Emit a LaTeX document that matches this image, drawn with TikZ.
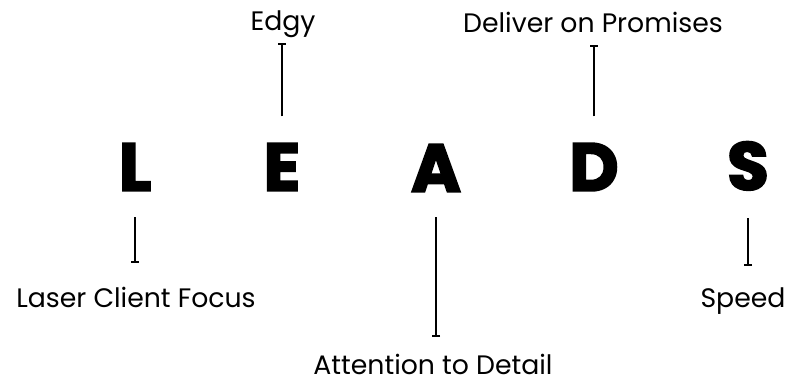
\documentclass[tikz,border=0pt]{standalone}
\usepackage{fontspec}
\setmainfont{Poppins}[BoldFeatures={FakeBold=3}]
\usetikzlibrary{arrows.meta}

\begin{document}
\begin{tikzpicture}[x=0.025cm, y=-0.025cm,
    letter/.style={inner sep=0pt, anchor=south, text height=1.2cm, text depth=0pt, font=\fontsize{48}{50}\selectfont\bfseries},
    label/.style={inner sep=0pt, text height=0.475cm, text depth=0pt, font=\fontsize{19}{21}\selectfont},
    lead/.style={draw=black, line width=1.3pt, -{Bar[width=0.2cm, line width=1.3pt]}}]

    \useasboundingbox (0,0) rectangle (804,382);

    % the five letters
    \node[letter] (ndL) at (135,191) {L};
    \node[letter] (ndE) at (282,191) {E};
    \node[letter] (ndA) at (436,192) {A};
    \node[letter] (ndD) at (594,191) {D};
    \node[letter] (ndS) at (748,190) {S};

    % labels
    \node[label, anchor=base] (ndEdgy) at (283,30) {Edgy};
    \node[label, anchor=base] (ndDeliver) at (593,32) {Deliver on Promises};
    \node[label, anchor=base] (ndLaser) at (136,307) {Laser Client Focus};
    \node[label, anchor=base] (ndAttention) at (433,374) {Attention to Detail};
    \node[label, anchor=base] (ndSpeed) at (743,307) {Speed};

    % leaders
    \draw[lead, shorten <=0.65cm, shorten >=0.325cm] (ndE.north) -- (ndE.north |- ndEdgy.south);
    \draw[lead, shorten <=0.65cm, shorten >=0.325cm] (ndD.north) -- (ndD.north |- ndDeliver.south);
    \draw[lead, shorten <=0.65cm, shorten >=0.625cm] (ndL.south) -- (ndL.south |- ndLaser.north);
    \draw[lead, shorten <=0.625cm, shorten >=0.45cm] (ndA.south) -- (ndA.south |- ndAttention.north);
    \draw[lead, shorten <=0.7cm, shorten >=0.55cm] (ndS.south) -- (ndS.south |- ndSpeed.north);
\end{tikzpicture}
\end{document}
